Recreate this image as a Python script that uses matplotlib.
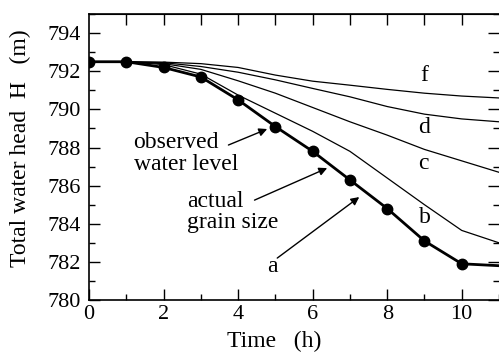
import numpy as np
import matplotlib
matplotlib.use("Agg")
from matplotlib import pyplot as plt
from matplotlib.ticker import MultipleLocator

# time axis (h)
time = [0, 1, 2, 3, 4, 5, 6, 7, 8, 9, 10, 11]
obs_time = [0, 1, 2, 3, 4, 5, 6, 7, 8, 9, 10]

# observed water level (markers) and calculated curves
observed = [792.5, 792.5, 792.2, 791.7, 790.5, 789.1, 787.8, 786.3, 784.8, 783.1, 781.9]
curve_a = [792.5, 792.5, 792.2, 791.7, 790.5, 789.1, 787.8, 786.3, 784.8, 783.1, 781.9, 781.8]
curve_b = [792.5, 792.5, 792.35, 791.85, 790.75, 789.8, 788.85, 787.8, 786.4, 785.0, 783.65, 783.0]
curve_c = [792.5, 792.5, 792.4, 792.1, 791.5, 790.85, 790.1, 789.35, 788.65, 787.9, 787.3, 786.7]
curve_d = [792.5, 792.5, 792.45, 792.25, 791.95, 791.55, 791.1, 790.66, 790.15, 789.75, 789.5, 789.35]
curve_f = [792.5, 792.5, 792.48, 792.4, 792.2, 791.8, 791.48, 791.27, 791.05, 790.85, 790.7, 790.6]

plt.rcParams['font.family'] = ['Liberation Serif', 'DejaVu Serif']
fs = 16
fs_txt = 17

fig = plt.figure(figsize=(4.99, 3.52), dpi=100)
ax = fig.add_axes([0.1784, 0.1477, 0.8216, 0.8123])

# thin calculated curves
for y in (curve_b, curve_c, curve_d, curve_f):
    ax.plot(time, y, color="black", lw=0.9)

# thick curve a with observed points
ax.plot(time, curve_a, color="black", lw=2.0)
ax.plot(obs_time, observed, "o", color="black", ms=7.5)

ax.set_xlim(0, 11)
ax.set_ylim(780, 795)
ax.xaxis.set_major_locator(MultipleLocator(2))
ax.xaxis.set_minor_locator(MultipleLocator(1))
ax.yaxis.set_minor_locator(MultipleLocator(1))
ax.set_yticks([780, 782, 784, 786, 788, 790, 792, 794])
ax.tick_params(which="both", direction="in", labelsize=fs, right=True, top=False)
ax.tick_params(axis="y", pad=6)
ax.tick_params(which="major", length=8, width=1)
ax.tick_params(which="minor", length=4, width=1)

top = ax.secondary_xaxis("top")
top.set_xticks([1, 2, 3, 4, 5, 6, 7, 8, 9, 10])
top.tick_params(direction="in", length=8, width=1, labeltop=False)

for s in ax.spines.values():
    s.set_linewidth(1.2)
ax.spines["right"].set_visible(False)

# axis titles
fig.text(274 / 499, 1 - 341 / 352, "Time   (h)", fontsize=fs_txt, ha="center", va="center")
fig.text(20 / 499, 1 - 148 / 352, "Total water head  H   (m)", fontsize=fs_txt,
         ha="center", va="center", rotation=90)

# curve labels
ax.text(8.98, 791.8, "f", fontsize=fs_txt, ha="center", va="center")
ax.text(8.98, 789.07, "d", fontsize=fs_txt, ha="center", va="center")
ax.text(8.98, 787.18, "c", fontsize=fs_txt, ha="center", va="center")
ax.text(9.0, 784.35, "b", fontsize=fs_txt, ha="center", va="center")

# annotation texts
ax.text(1.18, 787.97, "observed", fontsize=fs_txt, ha="left", va="baseline")
ax.text(1.2, 786.82, "water level", fontsize=fs_txt, ha="left", va="baseline")
ax.text(2.62, 784.89, "actual", fontsize=fs_txt, ha="left", va="baseline")
ax.text(2.62, 783.78, "grain size", fontsize=fs_txt, ha="left", va="baseline")
ax.text(4.92, 781.75, "a", fontsize=fs_txt, ha="center", va="center")

arrow = dict(arrowstyle="-|>", color="black", lw=1.0, mutation_scale=12, shrinkA=0, shrinkB=0)
ax.annotate("", xy=(4.78, 788.97), xytext=(3.74, 788.13), arrowprops=arrow)
ax.annotate("", xy=(6.39, 786.92), xytext=(4.44, 785.24), arrowprops=arrow)
ax.annotate("", xy=(7.25, 785.4), xytext=(5.05, 782.2), arrowprops=arrow)

fig.savefig("out.png", dpi=100)
